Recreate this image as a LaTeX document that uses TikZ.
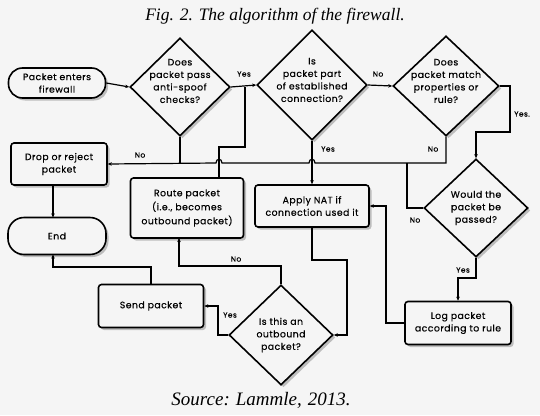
\documentclass[tikz,border=0pt]{standalone}
\usepackage{fontspec}
\setmainfont{Liberation Serif}
\newfontfamily\flowfont[FakeBold=0.35,LetterSpace=5]{Poppins}
\usetikzlibrary{shapes.geometric,shadows,arrows.meta}
\definecolor{bgc}{RGB}{245,245,245}
\begin{document}
\begin{tikzpicture}[x=1pt,y=-1pt,
  shad/.style={drop shadow={shadow xshift=2.5pt,shadow yshift=-2.5pt,fill=black!40,opacity=0.6}},
  boxnode/.style={draw,line width=1.6pt,rounded corners=3pt,fill=bgc,shad,align=center,inner sep=0pt,
    font=\flowfont\fontsize{9.3}{12.5}\selectfont},
  pill/.style={boxnode,rounded corners=14pt},
  dia/.style={draw,diamond,line width=1.6pt,fill=bgc,shad,inner sep=0pt},
  dtxt/.style={align=center,font=\flowfont\fontsize{9.3}{12.5}\selectfont,inner sep=0pt},
  lab/.style={font=\flowfont\fontsize{7.5}{8}\selectfont,inner sep=0pt},
  conn/.style={line width=1.2pt},
  arr/.style={conn,-{Stealth[length=4pt,width=3.5pt]}},
  captxt/.style={font=\itshape\fontsize{17.5}{20}\selectfont,inner sep=0pt}
]
\useasboundingbox[fill=bgc] (0,0) rectangle (540,415);
\node[captxt] (title) at (275,16) {Fig. 2. The algorithm of the firewall.};
\node[captxt,font=\itshape\fontsize{19}{20}\selectfont] (source) at (261,400) {Source:\hspace{6pt}Lammle,\hspace{6pt}2013.};

% nodes
\node[pill,minimum width=97pt,minimum height=30pt] (pkt) at (57,83) {Packet enters\\firewall};
\node[dia,minimum width=100pt,minimum height=98pt] (d1) at (180,87) {};
\node[dtxt] (d1t) at (180,81) {Does\\packet pass\\anti-spoof\\checks?};
\node[dia,minimum width=110pt,minimum height=110pt] (d2) at (312,85) {};
\node[dtxt] (d2t) at (312,80) {Is\\packet part\\of established\\connection?};
\node[dia,minimum width=106pt,minimum height=100pt] (d3) at (446,86) {};
\node[dtxt] (d3t) at (446,81) {Does\\packet match\\properties or\\rule?};
\node[boxnode,minimum width=96pt,minimum height=42pt] (drop) at (59,164) {Drop or reject\\packet};
\node[pill,minimum width=98pt,minimum height=37pt,rounded corners=16pt] (end) at (57,236) {End};
\node[boxnode,minimum width=113pt,minimum height=60pt,font=\flowfont\fontsize{9.3}{14}\selectfont] (route) at (187,208) {Route packet\\(i.e., becomes\\outbound packet)};
\node[boxnode,minimum width=114pt,minimum height=42pt] (nat) at (312,206) {Apply NAT if\\connection used it};
\node[dia,minimum width=104pt,minimum height=98pt] (d4) at (476,208) {};
\node[dtxt] (d4t) at (476,208) {Would the\\packet be\\passed?};
\node[boxnode,minimum width=106pt,minimum height=43pt] (log) at (458,323) {Log packet\\according to rule};
\node[dia,minimum width=104pt,minimum height=100pt] (d5) at (281,335) {};
\node[dtxt] (d5t) at (281,335) {Is this an\\outbound\\packet?};
\node[boxnode,minimum width=105pt,minimum height=43pt] (send) at (151,306) {Send packet};

% connectors
\draw[arr] (pkt.east) -- (d1.west);
\draw[arr] (d1.east) -- (d2.west);
\node[lab] (l1) at (244,74) {Yes};
\draw[arr] (d2.east) -- (d3.west);
\node[lab] (l2) at (378,74) {No};
\draw[arr] (d3.east) -- (510,86) -- (510,132) -| (d4.north);
\node[lab] (l3) at (522,114) {Yes.};
\draw[arr] (d3.south) -- (446,163) -- (315,163) .. controls (315,158) and (309,158) .. (309,163)
  -- (222,163) .. controls (222,158) and (216,158) .. (216,163) -- (drop.east);
\node[lab] (l4) at (433,149) {No};
\draw[conn] (d1.south) -- (180,163);
\node[lab] (l5) at (140,155) {No};
\draw[arr] (d2.south) -- (nat.north);
\node[lab] (l6) at (328,149) {Yes};
\draw[conn] (d4.west) -- (407,208) -- (407,163);
\node[lab] (l7) at (415,220) {No};
\draw[conn] (route.north -| 219,0) -- (219,147) -- (245,147) -- (245,87);
\draw[arr] (nat.south) -- (312,260) -- (347,260) |- (d5.east);
\draw[arr] (log.west) -- (386,323) |- (nat.east);
\draw[arr] (d4.south) -- (476,278) -| (log.north);
\node[lab] (l8) at (463,270) {Yes};
\draw[arr] (d5.north) -- (281,266) -| (179,238);
\node[lab] (l9) at (236,259) {No};
\draw[arr] (d5.west) -- (218,335) |- (send.east);
\node[lab] (l10) at (230,315) {Yes};
\draw[arr] (send.north) -- (151,267) -| (53,254.5);
\draw[arr] (drop.south -| 53,0) -- (53,217.5);
\end{tikzpicture}
\end{document}
